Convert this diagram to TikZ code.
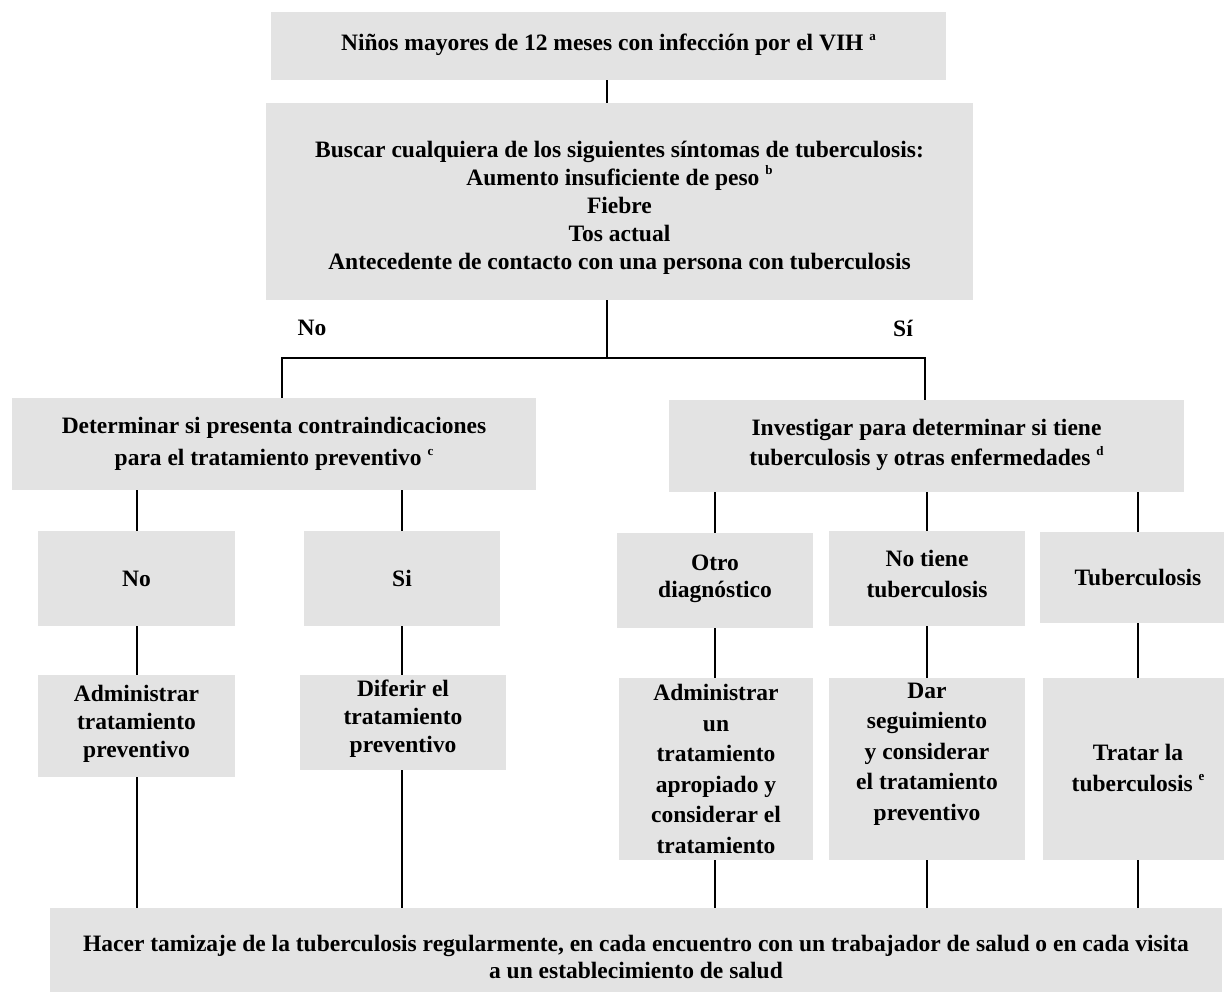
\documentclass[tikz,border=0pt]{standalone}
\usepackage{fontspec}
\setmainfont{Liberation Serif}
\definecolor{boxgray}{HTML}{E3E3E3}
\newcommand{\supmark}[1]{\raisebox{0.45em}{\fontsize{13}{13}\selectfont #1}}
\begin{document}
\begin{tikzpicture}[x=1pt,y=-1pt,
  box/.style={fill=boxgray,draw=none,inner sep=0pt},
  boxtext/.style={inner sep=0pt,align=center,
    font=\bfseries\fontsize{23.5}{28}\selectfont},
  spaced/.style={font=\bfseries\fontsize{23.5}{#1}\selectfont},
  lead/.style={font=\bfseries\fontsize{23.5}{28}\selectfont},
  link/.style={draw=black,line width=2pt}]
\useasboundingbox (0,0) rectangle (1224,992);
\fill[white] (0,0) rectangle (1224,992);

% a grey box from its corners: [text style] x1, y1, x2, y2, name, text
\newcommand{\boxat}[7][]{%
  \node[box,minimum width={#4-#2},minimum height={#5-#3},
    label={[boxtext,#1]center:{#7}}] (#6) at ({(#2+#4)/2},{(#3+#5)/2}) {};}

\boxat[yshift=1pt]{271}{12}{946}{80}{top}{Niños mayores de 12 meses con infección por el VIH \supmark{a}}
\boxat[yshift=-6pt]{266}{103}{973}{300}{sym}{Buscar cualquiera de los siguientes síntomas de tuberculosis:\\
  Aumento insuficiente de peso \supmark{b}\\ Fiebre\\ Tos actual\\
  Antecedente de contacto con una persona con tuberculosis}
\boxat[spaced=32]{12}{398}{536}{490}{det}{Determinar si presenta contraindicaciones\\
  para el tratamiento preventivo \supmark{c}}
\boxat[spaced=30,yshift=1pt]{669}{400}{1184}{492}{inv}{Investigar para determinar si tiene\\
  tuberculosis y otras enfermedades \supmark{d}}

\boxat{38}{531}{235}{626}{no}{No}
\boxat{304}{531}{500}{626}{si}{Si}
\boxat[spaced=27,yshift=2pt]{617}{533}{813}{628}{otro}{Otro\\ diagnóstico}
\boxat[spaced=31,yshift=5pt]{829}{531}{1025}{626}{notb}{No tiene\\ tuberculosis}
\boxat{1040}{532}{1236}{623}{tb}{Tuberculosis}

\boxat[yshift=2pt]{38}{675}{235}{777}{adm}{Administrar\\ tratamiento\\ preventivo}
\boxat[yshift=4pt]{300}{675}{506}{770}{dif}{Diferir el\\ tratamiento\\ preventivo}
\boxat[spaced=30.5]{619}{678}{813}{860}{apr}{Administrar\\ un\\ tratamiento\\ apropiado y\\ considerar el\\ tratamiento}
\boxat[spaced=30.5,yshift=15pt]{829}{678}{1025}{860}{seg}{Dar\\ seguimiento\\ y considerar\\ el tratamiento\\ preventivo}
\boxat[spaced=31,yshift=1pt]{1043}{678}{1233}{860}{trat}{Tratar la\\ tuberculosis \supmark{e}}

\boxat[spaced=27,yshift=-7pt]{50}{908}{1222}{992}{tam}{Hacer tamizaje de la tuberculosis regularmente, en cada encuentro con un trabajador de salud o en cada visita\\
  a un establecimiento de salud}

% answers to the symptom question
\node[lead] (lno) at (312,328) {No};
\node[lead] (lsi) at (903,328) {Sí};

% connectors
\coordinate (split) at (607,358);
\coordinate (lx) at (282,0);
\coordinate (rx) at (925,0);
\coordinate (tbx) at (1138,0);
\draw[link] (top.south -| split) -- (sym.north -| split);
\draw[link] (sym.south -| split) -- (split);
\draw[link] (det.north -| lx) |- (split) -| (inv.north -| rx);

\draw[link] (det.south -| no) -- (no.north);
\draw[link] (det.south -| si) -- (si.north);
\draw[link] (inv.south -| otro) -- (otro.north);
\draw[link] (inv.south -| notb) -- (notb.north);
\draw[link] (inv.south -| tbx) -- (tb.north -| tbx);

\draw[link] (no.south) -- (adm.north -| no);
\draw[link] (si.south) -- (dif.north -| si);
\draw[link] (otro.south) -- (apr.north -| otro);
\draw[link] (notb.south) -- (seg.north -| notb);
\draw[link] (tb.south -| tbx) -- (trat.north -| tbx);

\draw[link] (adm.south -| no) -- (tam.north -| no);
\draw[link] (dif.south -| si) -- (tam.north -| si);
\draw[link] (apr.south -| otro) -- (tam.north -| otro);
\draw[link] (seg.south -| notb) -- (tam.north -| notb);
\draw[link] (trat.south -| tbx) -- (tam.north -| tbx);
\end{tikzpicture}
\end{document}
